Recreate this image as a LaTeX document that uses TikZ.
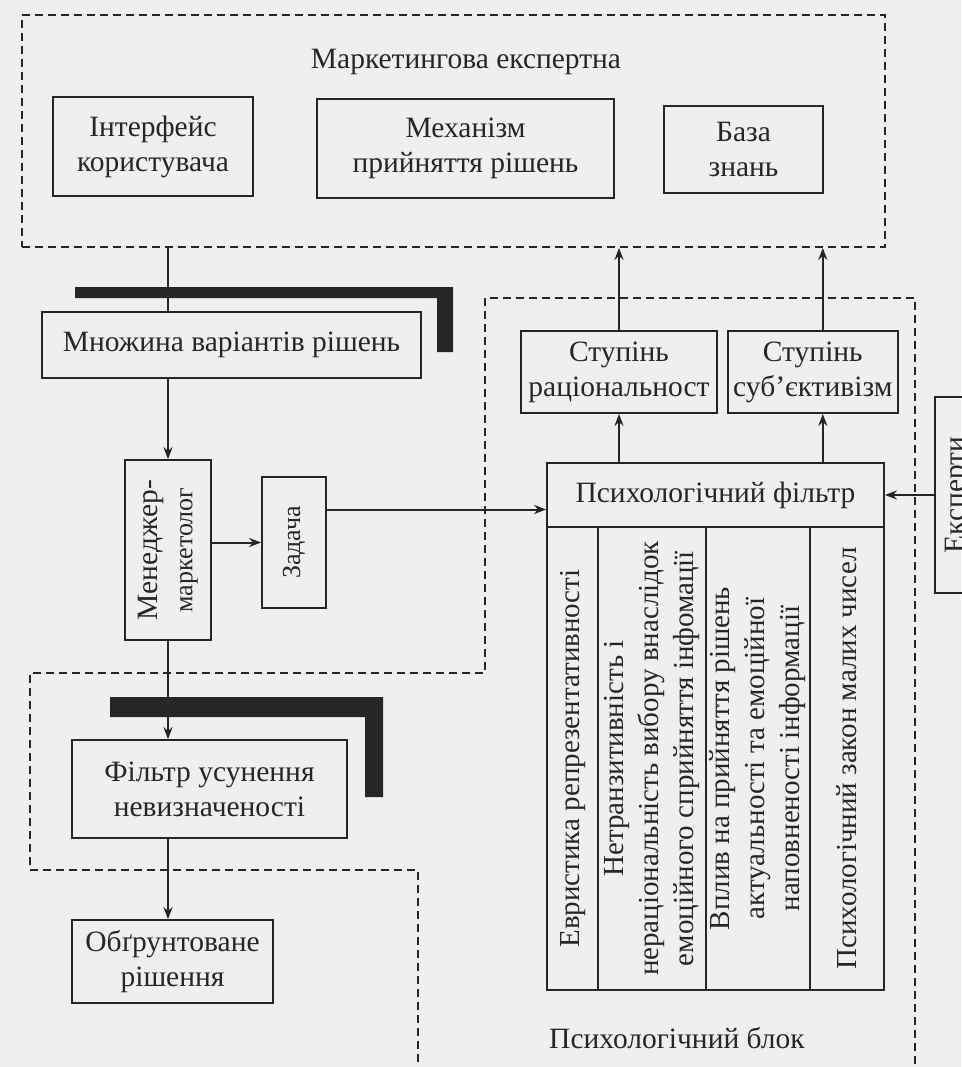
\documentclass[tikz,border=0pt]{standalone}
\usepackage{fontspec}
\setmainfont{Liberation Serif}
\usetikzlibrary{arrows.meta, positioning}
\definecolor{Ink}{HTML}{262626}
\definecolor{Paper}{HTML}{EFEFEF}

\begin{document}
\begin{tikzpicture}[x=1pt, y=-1pt, line width=1.8pt, color=Ink,
  box/.style={draw, inner sep=2pt, align=center, font=\fontsize{29.5}{35}\selectfont},
  colbox/.style={box, rotate=90, minimum width=463pt, font=\fontsize{29}{35}\selectfont},
  area/.style={draw, dash pattern=on 8pt off 5pt, line width=1.8pt},
  arr/.style={-{Stealth[length=12pt, width=9pt]}, line width=2pt},
  bar/.style={fill=Ink, draw=none}]
  \useasboundingbox[fill=Paper] (0,0) rectangle (961,1067);

  \node[area, minimum width=863pt, minimum height=232pt] (es) at (453.5,131) {};
  \node[font=\fontsize{29.5}{35}\selectfont] (title) at (466,62) {Маркетингова експертна};
  \node[box, minimum width=200pt, minimum height=99pt] (ui) at (153,146.5) {Інтерфейс\\користувача};
  \node[box, minimum width=297pt, minimum height=99pt] (mech) at (465.5,148.5) {Механізм\\прийняття рішень};
  \node[box, minimum width=159pt, minimum height=87pt] (kb) at (743.5,149.5) {База\\знань};

  \node[box, minimum width=379pt, minimum height=66pt] (set) at (231.5,345) {Множина варіантів рішень};
  \node[box, rotate=90, minimum width=180pt, minimum height=86pt] (mgr) at (168,550)
    {Менеджер-\\{\fontsize{26}{32}\selectfont маркетолог}};
  \node[box, rotate=90, minimum width=131pt, minimum height=64pt,
        font=\fontsize{26}{30}\selectfont] (task) at (294,542.5) {Задача};
  \node[box, minimum width=275pt, minimum height=98pt] (flt) at (209.5,789) {Фільтр усунення\\невизначеності};
  \node[box, minimum width=201pt, minimum height=83pt] (res) at (172.5,961.5) {Обґрунтоване\\рішення};

  \node[box, minimum width=196pt, minimum height=82pt] (rat) at (619,372) {Ступінь\\раціональност};
  \node[box, minimum width=170pt, minimum height=82pt, right=9pt of rat] (subj) {Ступінь\\суб’єктивізм};
  \node[box, minimum width=337pt, minimum height=64pt] (filt) at (715.5,495) {Психологічний фільтр};
  \node[colbox, minimum height=51pt] (c1) at (572.5,758.5) {Евристика репрезентативності};
  \node[colbox, minimum height=108pt] (c2) at (652,758.5)
    {Нетранзитивність і\\нераціональність вибору внаслідок\\емоційного сприйняття інфомації};
  \node[colbox, minimum height=104pt] (c3) at (758,758.5)
    {Вплив на прийняття рішень\\актуальності та емоційної\\наповненості інформації};
  \node[colbox, minimum height=74pt] (c4) at (847,758.5) {Психологічний закон малих чисел};
  \node[box, rotate=90, minimum width=196pt, minimum height=45pt] (exp) at (957.5,495) {Експерти};
  \node[font=\fontsize{29.5}{35}\selectfont] (blk) at (677,1038) {Психологічний блок};

  \fill[bar] (75,287) -- (453,287) -- (453,352) -- (437,352) -- (437,298) -- (75,298) -- cycle;
  \fill[bar] (110,697) -- (383,697) -- (383,797) -- (365,797) -- (365,717) -- (110,717) -- cycle;
  \draw[area] (418,1075) -- (418,870) -- (30,870) -- (30,673) -- (485,673)
    -- (485,298) -- (915,298) -- (915,1075);

  \draw[line width=2pt] (es.south -| mgr) -- (set.north -| mgr);
  \draw[arr] (set.south -| mgr) -- (mgr.east);
  \draw[arr] (mgr.south |- task) -- (task.north);
  \coordinate (tq) at ([yshift=33pt]task.south);
  \draw[arr] (tq) -- (tq -| filt.west);
  \draw[arr] (mgr.west) -- (mgr.west |- flt.north);
  \draw[arr] (flt.south -| mgr) -- (res.north -| mgr);
  \draw[arr] (exp.north) -- (filt.east);
  \draw[arr] (rat |- filt.north) -- (rat.south);
  \draw[arr] (rat.north) -- (rat |- es.south);
  \coordinate (sx) at ([xshift=10pt]subj.south);
  \draw[arr] (sx |- filt.north) -- (sx);
  \draw[arr] (sx |- subj.north) -- (sx |- es.south);
\end{tikzpicture}
\end{document}
